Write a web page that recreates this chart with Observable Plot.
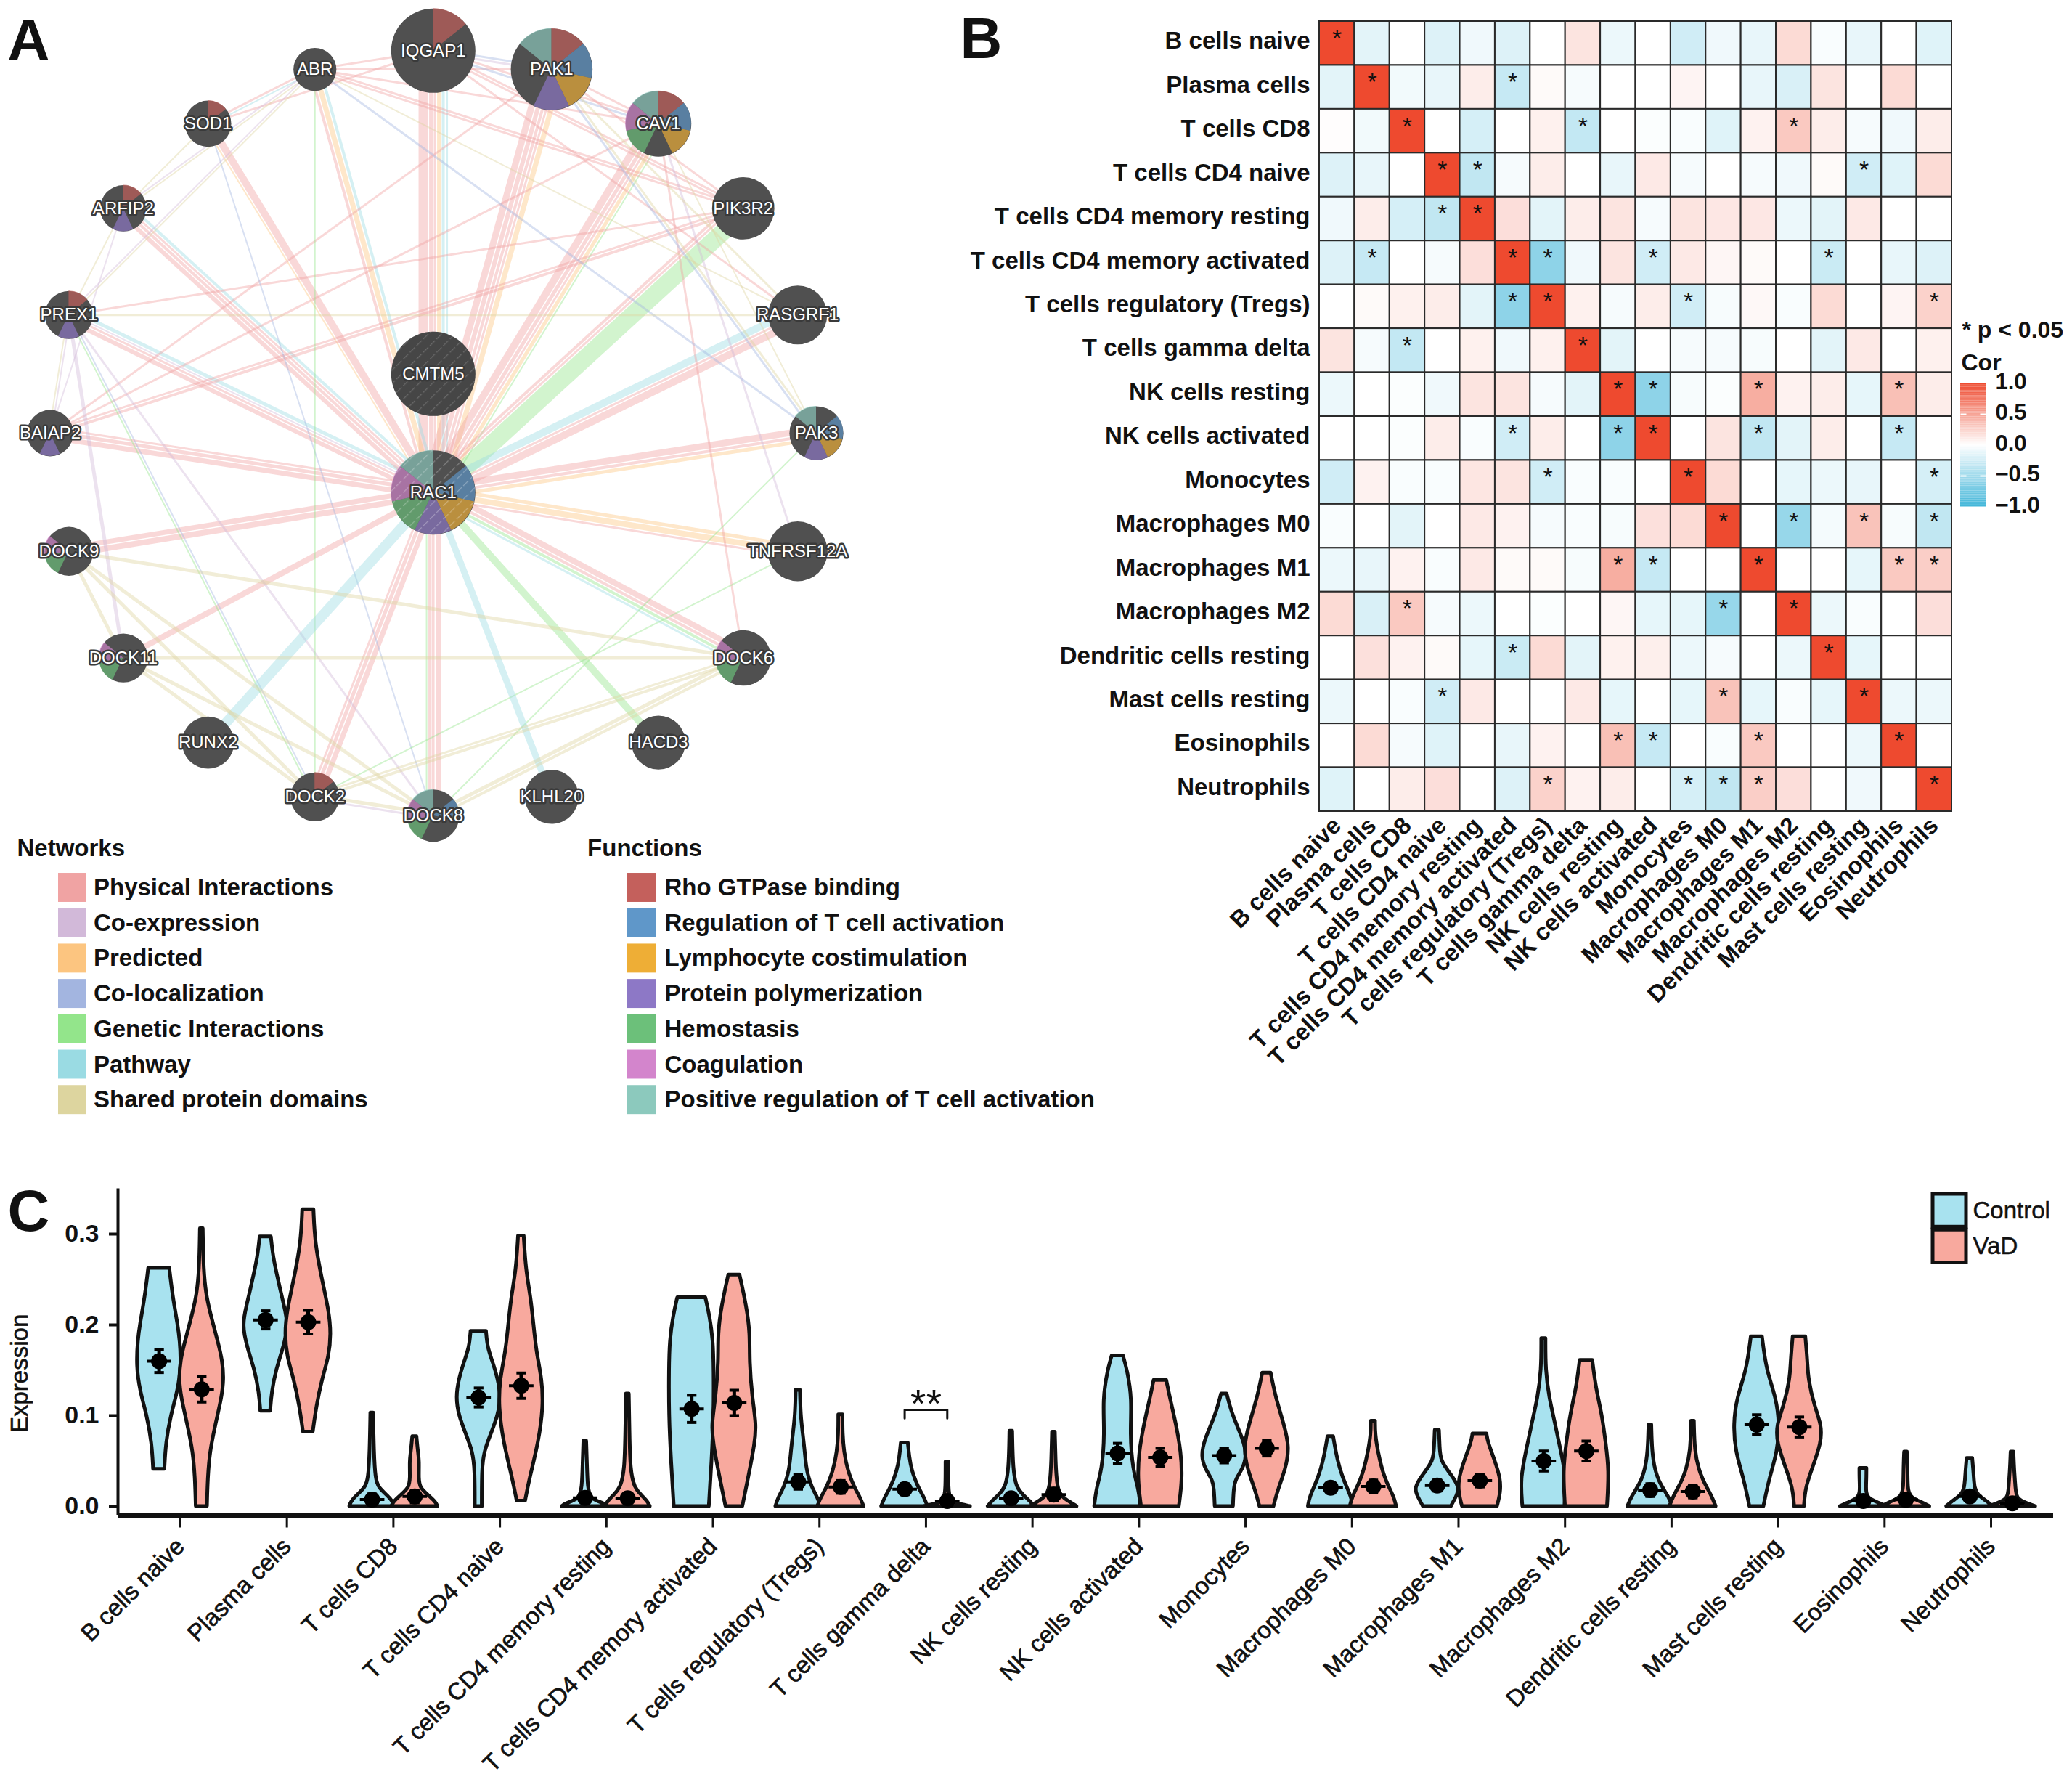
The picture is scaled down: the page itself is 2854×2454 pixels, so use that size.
<!DOCTYPE html>
<html><head><meta charset="utf-8">
<script src="https://cdn.jsdelivr.net/npm/d3@7"></script>
<script src="https://cdn.jsdelivr.net/npm/@observablehq/plot@0.6"></script>
<style>
html,body{margin:0;padding:0;background:#fff}
#page{position:relative;width:2854px;height:2454px;overflow:hidden;background:#fff}
#page svg{position:absolute;background:transparent;overflow:visible}
</style></head><body><div id="page"></div>
<script>
const FONT='"Liberation Sans",Arial,sans-serif';

/* ---------- Panel A: gene network ---------- */
const ringGenes=["IQGAP1","PAK1","CAV1","PIK3R2","RASGRF1","PAK3","TNFRSF12A","DOCK6","HACD3","KLHL20","DOCK8","DOCK2","RUNX2","DOCK11","DOCK9","BAIAP2","PREX1","ARFIP2","SOD1","ABR"];
const ringScores=[1,.97,.78,.74,.7,.64,.71,.66,.64,.64,.62,.58,.62,.58,.58,.55,.57,.55,.55,.51];
const hubGenes=["CMTM5","RAC1"];
const hubHeights=[.155,-.155];
const networkNames=["Physical Interactions","Co-expression","Predicted","Co-localization","Genetic Interactions","Pathway","Shared protein domains"];
const networkColors=["#f0a3a3","#d2b9d9","#fcc580","#a3b5e0","#93e58b","#9adbe3","#ddd59f"];
const functionNames=["Rho GTPase binding","Regulation of T cell activation","Lymphocyte costimulation","Protein polymerization","Hemostasis","Coagulation","Positive regulation of T cell activation"];
const functionColors=["#c4605c","#5f97c9","#eeae36","#8d78c6","#6cc07a","#d385cc","#8cc9bd"];
const geneFunctions={
 RAC1:[1,2,3,4,5,6],IQGAP1:[0],PAK1:[0,1,2,3,6],CAV1:[0,1,2,4,5,6],PAK3:[1,2,3,6],
 DOCK6:[4,5],DOCK8:[1,4,5,6],DOCK2:[0],DOCK11:[4,5],DOCK9:[4,5],BAIAP2:[3],
 PREX1:[0,3],ARFIP2:[0,3],SOD1:[0]};
const physicalEdges=[["RAC1","IQGAP1",13],["RAC1","IQGAP1",5],["RAC1","IQGAP1",3],["RAC1","PAK1",9],["RAC1","PAK1",6],["RAC1","PAK1",4],["RAC1","PAK1",3],
 ["RAC1","CAV1",10],["RAC1","CAV1",5],["RAC1","CAV1",3],["RAC1","PIK3R2",4],["RAC1","PIK3R2",3],["RAC1","RASGRF1",10],["RAC1","RASGRF1",3],["RAC1","PAK3",9],["RAC1","PAK3",4],
 ["RAC1","TNFRSF12A",3],["RAC1","DOCK6",8],["RAC1","DOCK6",4],["RAC1","DOCK8",7],["RAC1","DOCK8",4],["RAC1","DOCK8",3],["RAC1","DOCK2",7],["RAC1","DOCK2",5],["RAC1","DOCK2",3],
 ["RAC1","DOCK11",8],["RAC1","DOCK9",8],["RAC1","DOCK9",7],["RAC1","BAIAP2",7],["RAC1","BAIAP2",5],["RAC1","BAIAP2",3],["RAC1","PREX1",6],["RAC1","PREX1",3],
 ["RAC1","ARFIP2",6],["RAC1","ARFIP2",4],["RAC1","ARFIP2",3],["RAC1","SOD1",10],["RAC1","ABR",4],
 ["ABR","IQGAP1",3],["ABR","PAK1",3],["ABR","CAV1",3],["ABR","PIK3R2",3],["ABR","PIK3R2",3],["ABR","SOD1",3],["IQGAP1","SOD1",3],["IQGAP1","PIK3R2",3],["IQGAP1","PIK3R2",3],
 ["IQGAP1","CAV1",3],["IQGAP1","RASGRF1",3],["PAK1","PIK3R2",3],["PAK1","CAV1",3],["PIK3R2","BAIAP2",4],["PIK3R2","BAIAP2",3],["PIK3R2","PREX1",3],["PAK1","BAIAP2",3],["CAV1","BAIAP2",3],["CAV1","DOCK6",3]];
const coexpressionEdges=[["PREX1","DOCK11",5],["IQGAP1","PAK1",3],["PREX1","DOCK8",3],["CAV1","TNFRSF12A",3],["DOCK2","DOCK8",3],["BAIAP2","PREX1",2],["ABR","ARFIP2",2],["ABR","PREX1",2],["PREX1","RAC1",2],["ARFIP2","BAIAP2",2]];
const predictedEdges=[["RAC1","PAK1",7],["RAC1","CAV1",5],["RAC1","ABR",7],["RAC1","IQGAP1",5],["RAC1","PAK3",5],["RAC1","TNFRSF12A",8],["RAC1","TNFRSF12A",5],["RAC1","SOD1",2]];
const colocalizationEdges=[["ABR","PAK3",3],["PAK1","PAK3",3],["IQGAP1","CAV1",3],["IQGAP1","PAK1",3],["SOD1","DOCK8",2],["PREX1","DOCK2",2]];
const geneticEdges=[["RAC1","PIK3R2",24],["RAC1","HACD3",10],["RAC1","DOCK6",4],["DOCK8","PAK3",2],["DOCK2","TNFRSF12A",2],["ABR","DOCK2",2],["PREX1","DOCK2",2],["CAV1","RAC1",2],["DOCK8","RAC1",2]];
const pathwayEdges=[["RAC1","RUNX2",14],["RAC1","KLHL20",9],["RAC1","RASGRF1",10],["RAC1","PREX1",5],["RAC1","ABR",4],["RAC1","IQGAP1",4],["RAC1","IQGAP1",3],["RAC1","ARFIP2",4],["RAC1","DOCK6",3],["SOD1","ABR",2]];
const sharedEdges=[["DOCK9","DOCK11",5],["DOCK9","DOCK2",5],["DOCK9","DOCK8",5],["DOCK9","DOCK6",5],["DOCK11","DOCK2",5],["DOCK11","DOCK8",5],["DOCK11","DOCK6",5],["DOCK2","DOCK8",5],["DOCK2","DOCK6",4],["DOCK8","DOCK6",5],["DOCK2","DOCK6",3],["DOCK8","DOCK6",4],
 ["PAK1","PAK3",3],["ABR","PREX1",2],["ARFIP2","ABR",2],["ARFIP2","PREX1",2],["PREX1","BAIAP2",2],["PREX1","RASGRF1",3],["RASGRF1","ABR",2],["RASGRF1","PAK1",3],["PAK3","CAV1",2],["ARFIP2","SOD1",2]];

const nodePos={};
ringGenes.forEach((g,i)=>{const t=i*2*Math.PI/ringGenes.length;nodePos[g]={x:Math.sin(t),y:Math.cos(t),score:ringScores[i]};});
hubGenes.forEach((g,i)=>{nodePos[g]={x:0,y:hubHeights[i],score:1};});
const nodes=[...ringGenes,...hubGenes].map(g=>({gene:g,...nodePos[g]}));
const edgeLists=[physicalEdges,coexpressionEdges,predictedEdges,colocalizationEdges,geneticEdges,pathwayEdges,sharedEdges];
const edgesFlat=edgeLists.flatMap((l,k)=>l.map(([a,b,w])=>({a,b,w,network:networkNames[k]})));
const edgeRows=[];
const UNIT=1/527.7;
for(const group of d3.group(edgesFlat,e=>[e.a,e.b].sort().join("|")).values()){
  const total=d3.sum(group,e=>e.w+1.5);let off=-total/2;
  for(const e of group){
    const [p,q]=[e.a,e.b].sort().map(g=>nodePos[g]);
    const dx=q.x-p.x,dy=q.y-p.y,len=Math.hypot(dx,dy)||1;
    const o=(off+(e.w+1.5)/2)*UNIT;off+=e.w+1.5;
    const nx=-dy/len*o,ny=dx/len*o;
    edgeRows.push({x1:p.x+nx,y1:p.y+ny,x2:q.x+nx,y2:q.y+ny,w:e.w,network:e.network});
  }
}
const wedges=Object.entries(geneFunctions).flatMap(([g,fs])=>fs.map(f=>({...nodePos[g],gene:g,k:f,fn:functionNames[f]})));

const wedgeRender=(I,scales,v)=>{
  const g=d3.create("svg:g");const arc=d3.arc().innerRadius(0);
  const n=functionNames.length;
  for(const i of I){
    g.append("path").attr("transform",`translate(${v.x[i]},${v.y[i]})`)
     .attr("d",arc({outerRadius:v.r[i],startAngle:wedges[i].k*2*Math.PI/n,endAngle:(wedges[i].k+1)*2*Math.PI/n}))
     .attr("fill",v.fill[i]).attr("fill-opacity",.68);
  }
  return g.node();
};

const plotA=Plot.plot({width:1300,height:1180,margin:0,style:{fontFamily:FONT,background:"transparent"},
 x:{domain:[-1.13,1.3335],range:[0,1300],axis:null},
 y:{domain:[-1.1088,1.1316],range:[1180,0],axis:null},
 r:{type:"linear",domain:[0,1],range:[0,58]},
 color:{domain:[...networkNames,...functionNames],range:[...networkColors,...functionColors]},
 marks:[
  Plot.link(edgeRows,{x1:"x1",y1:"y1",x2:"x2",y2:"y2",stroke:"network",strokeWidth:"w",strokeOpacity:.42}),
  Plot.dot(nodes,{x:"x",y:"y",r:"score",fill:"#505050"}),
  Plot.dot(wedges,{x:"x",y:"y",r:"score",fill:"fn",render:wedgeRender}),
  Plot.dot(nodes.filter(d=>hubGenes.includes(d.gene)),{x:"x",y:"y",r:"score",fill:"url(#hatchA)"}),
  Plot.dot(nodes.filter(d=>d.gene==="CMTM5"),{x:"x",y:"y",r:"score",fill:"#333",fillOpacity:.3}),
  Plot.text(nodes,{x:"x",y:"y",text:"gene",fill:"#fff",stroke:"#3a3a3a",strokeWidth:5,fontSize:24,paintOrder:"stroke"}),
  Plot.text(["A"],{frameAnchor:"top-left",dx:10,dy:25,fontSize:80,fontWeight:"bold",fill:"#111",lineAnchor:"top",textAnchor:"start"})
 ]});
d3.select(plotA).insert("defs",":first-child").html(`<pattern id="hatchA" width="13" height="13" patternUnits="userSpaceOnUse" patternTransform="rotate(45)"><line x1="0" y1="0" x2="0" y2="13" stroke="#fff" stroke-opacity=".28" stroke-width="2.5" stroke-dasharray="9 3"/></pattern>`);

function swatchLegend(title,names,colors,left,marginLeft,textDx){
  const p=Plot.plot({width:1300,height:430,marginTop:67.65,marginBottom:21.45,marginLeft,marginRight:1300-marginLeft-39,
   style:{fontFamily:FONT,background:"transparent"},
   x:{domain:[""],axis:null,padding:0,round:false},
   y:{domain:names,axis:null,paddingInner:.18,paddingOuter:.09,round:false},
   color:{domain:names,range:colors},
   marks:[
    Plot.cell(names,{x:()=>"",y:d=>d,fill:d=>d}),
    Plot.text(names,{x:()=>"",y:d=>d,text:d=>d,dx:textDx,textAnchor:"start",fontSize:33,fontWeight:"bold",fill:"#111"}),
    Plot.text([title],{x:()=>"",y:()=>names[0],text:d=>d,dx:-(19.5+marginLeft-(marginLeft===80?23:28.6)),dy:-54,textAnchor:"start",fontSize:33,fontWeight:"bold",fill:"#111"})
   ]});
  p.style.left=left+"px";p.style.top="1130px";return p;
}
const legendNetworks=swatchLegend("Networks",networkNames,networkColors,0,80,29);
const legendFunctions=swatchLegend("Functions",functionNames,functionColors,780,84,31.5);

/* ---------- Panel B: correlation heatmap ---------- */
const cellTypes=["B cells naive","Plasma cells","T cells CD8","T cells CD4 naive","T cells CD4 memory resting","T cells CD4 memory activated","T cells regulatory (Tregs)","T cells gamma delta","NK cells resting","NK cells activated","Monocytes","Macrophages M0","Macrophages M1","Macrophages M2","Dendritic cells resting","Mast cells resting","Eosinophils","Neutrophils"];
const corRows=[
[1,-.15,0,-.18,-.08,-.18,0,.15,-.1,0,-.25,-.08,-.12,.2,-.03,-.12,0,-.17],
[-.15,1,-.07,-.12,.1,-.3,.03,-.05,0,0,.06,0,-.12,-.2,.15,0,.2,0],
[.01,-.07,1,0,-.22,0,.08,-.32,0,-.02,-.03,-.17,.07,.3,.1,-.05,-.08,.1],
[-.18,-.12,0,1,-.33,-.05,.1,0,-.12,.12,-.05,0,-.05,-.08,.03,-.25,-.17,.2],
[-.08,.1,-.22,-.33,1,.18,-.15,.1,.15,-.05,.15,.13,.13,-.1,-.15,.12,0,0],
[-.18,-.3,0,-.05,.18,1,-.6,-.08,.15,-.25,.12,.05,.03,0,-.28,0,-.12,-.18],
[0,.03,.08,.1,-.15,-.6,1,.08,-.05,.1,-.25,-.04,.04,-.03,.2,0,.06,.25],
[.15,-.05,-.32,0,.08,-.08,.08,1,-.15,0,-.05,-.05,-.04,0,-.15,.12,0,.08],
[-.1,0,-.02,-.08,.15,.15,-.05,-.15,1,-.6,-.04,-.02,.45,.07,.1,-.13,.35,.1],
[0,0,-.02,.1,-.03,-.25,.1,0,-.6,1,0,.15,-.33,-.15,.1,0,-.3,0],
[-.25,.07,-.03,-.03,.14,.15,-.25,-.03,-.03,0,1,.2,0,-.13,-.1,-.12,0,-.22],
[-.03,0,-.15,0,.12,.07,-.05,-.03,-.04,.17,.2,1,0,-.55,-.06,.33,-.04,-.33],
[-.1,-.12,.07,-.03,.12,.03,.03,-.04,.45,-.3,0,0,1,0,0,-.13,.3,.27],
[.2,-.2,.3,-.05,-.1,0,-.02,0,.05,-.13,-.13,-.55,0,1,-.1,-.03,0,.18],
[0,.17,.07,.03,-.13,-.28,.2,-.15,.08,.09,-.1,-.05,0,-.1,1,-.13,0,0],
[-.1,0,-.03,-.25,.12,0,0,.12,-.13,0,-.13,.33,-.13,-.03,-.13,1,-.1,-.1],
[0,.2,-.05,-.17,0,-.12,.07,0,.35,-.3,0,-.03,.3,0,0,-.1,1,0],
[-.17,0,.1,.18,0,-.18,.25,.07,.1,0,-.22,-.33,.27,.18,0,-.08,0,1]];
const sigColumns=[[1],[2,6],[3,8,14],[4,5,16],[4,5],[2,6,7,10,15],[6,7,11,18],[3,8],[9,10,13,17],[6,9,10,13,17],[7,11,18],[12,14,16,18],[9,10,13,17,18],[3,12,14],[6,15],[4,12,16],[9,10,13,17],[7,11,12,13,18]];
const corScale={type:"linear",domain:[-1,0,1],range:["#42b6d9","#ffffff","#ee4a2f"]};
const corCells=corRows.flatMap((r,i)=>r.map((v,j)=>({row:cellTypes[i],col:cellTypes[j],v})));
const sigCells=sigColumns.flatMap((cs,i)=>cs.map(j=>({row:cellTypes[i],col:cellTypes[j-1]})));

const plotB=Plot.plot({width:1554,height:1600,marginLeft:517,marginRight:166,marginTop:29,marginBottom:483,
 style:{fontFamily:FONT,background:"transparent",color:"#111"},
 x:{domain:cellTypes,padding:0,label:null,round:false},y:{domain:cellTypes,padding:0,label:null,round:false},color:corScale,
 marks:[
  Plot.axisY({tickSize:0,tickPadding:13,fontSize:33,fontWeight:"bold",label:null,dy:-3}),
  Plot.axisX({tickSize:0,tickPadding:14,tickRotate:-45,fontSize:33,fontWeight:"bold",label:null}),
  Plot.cell(corCells,{x:"col",y:"row",fill:"v",stroke:"#2a2a2a",strokeWidth:2}),
  Plot.text(sigCells,{x:"col",y:"row",text:()=>"*",fontSize:34,fill:"#111",dy:-7}),
  Plot.text(["B"],{frameAnchor:"top-left",dx:-(517-22),dy:-6,fontSize:80,fontWeight:"bold",fill:"#111",lineAnchor:"top",textAnchor:"start"})
 ]});
plotB.style.left="1300px";plotB.style.top="0px";

const corBarTicks=[-1,-.5,0,.5,1];
const corRamp=d3.range(-1,1,.02);
const plotBar=Plot.plot({width:214,height:320,margin:0,style:{fontFamily:FONT,background:"transparent",color:"#111"},
 x:{domain:[0,35],range:[60,95],axis:null},y:{domain:[-1,1],range:[277.5,107.5],axis:null},color:corScale,
 marks:[
  Plot.rect(corRamp,{x1:0,x2:35,y1:d=>d,y2:d=>d+.02,fill:d=>d+.01}),
  Plot.link([.5,-.5],{x1:0,x2:8,y1:d=>d,y2:d=>d,stroke:"#fff",strokeWidth:2}),
  Plot.link([.5,-.5],{x1:27,x2:35,y1:d=>d,y2:d=>d,stroke:"#fff",strokeWidth:2}),
  Plot.text(corBarTicks,{x:35,y:d=>d,dx:13,dy:-2,text:d=>d3.format(".1f")(d),textAnchor:"start",fontSize:31,fontWeight:"bold"}),
  Plot.text(["* p < 0.05"],{frameAnchor:"top-left",dx:62,dy:34,fontSize:32,fontWeight:"bold",lineAnchor:"middle",textAnchor:"start"}),
  Plot.text(["Cor"],{frameAnchor:"top-left",dx:61,dy:79,fontSize:32,fontWeight:"bold",lineAnchor:"middle",textAnchor:"start"})
 ]});
plotBar.style.left="2640px";plotBar.style.top="420px";

/* ---------- Panel C: violins ---------- */
const groups=["Control","VaD"];
const groupColors=["#a8e2ef","#f8a99e"];
const violinControl=[
[[.041,8],[.07,10],[.10,17],[.127,27],[.155,32],[.183,30],[.20,27],[.23,20],[.2625,15]],
[[.105,7],[.125,9],[.15,15],[.175,26],[.20,33],[.22,27],[.25,18],[.275,11],[.297,8]],
[[0,32],[.005,30],[.012,22],[.02,10],[.03,5],[.06,3],[.103,2]],
[[0,5],[.04,5],[.06,8],[.08,18],[.10,28],[.12,32],[.14,28],[.16,20],[.175,13],[.193,11]],
[[0,33],[.003,28],[.008,8],[.02,4],[.05,3],[.072,2]],
[[0,25],[.05,29],[.10,32],[.15,32],[.183,31],[.21,26],[.23,20]],
[[0,32],[.01,28],[.02,20],[.04,12],[.06,10],[.08,7],[.10,4],[.128,3]],
[[0,33],[.01,28],[.02,20],[.04,10],[.055,7],[.07,5]],
[[0,33],[.005,28],[.012,18],[.02,8],[.04,3],[.083,2]],
[[0,33],[.02,30],[.04,22],[.08,18],[.118,21],[.15,14],[.166,8]],
[[0,13],[.02,14],[.03,17],[.04,26],[.055,33],[.075,27],[.10,12],[.124,4]],
[[0,32],[.01,30],[.03,18],[.05,10],[.077,4]],
[[0,20],[.01,27],[.02,33],[.035,20],[.05,5],[.065,4],[.084,3]],
[[0,30],[.03,33],[.06,25],[.09,17],[.12,8],[.15,3],[.185,3]],
[[0,32],[.01,27],[.025,14],[.04,7],[.06,3],[.09,2]],
[[0,10],[.03,18],[.06,30],[.09,33],[.12,28],[.15,14],[.187,8]],
[[0,33],[.003,25],[.008,8],[.015,4],[.03,5],[.042,5]],
[[0,33],[.006,24],[.012,12],[.02,7],[.035,6],[.053,4]]];
const violinVaD=[
[[0,8],[.03,9],[.06,12],[.09,20],[.12,29],[.14,32],[.16,30],[.18,24],[.20,17],[.23,7],[.26,3],[.306,2]],
[[.082,7],[.11,12],[.14,20],[.165,30],[.19,33],[.215,30],[.25,20],[.29,10],[.327,8]],
[[0,33],[.005,30],[.012,20],[.02,8],[.03,6],[.05,7],[.06,5],[.077,3]],
[[.006,6],[.03,12],[.07,25],[.11,32],[.14,30],[.17,22],[.20,18],[.23,14],[.26,7],[.298,4]],
[[0,32],[.006,28],[.012,20],[.02,10],[.04,4],[.08,3],[.124,2]],
[[0,12],[.03,20],[.07,30],[.09,32],[.12,26],[.16,22],[.19,23],[.22,18],[.255,8]],
[[0,33],[.01,28],[.02,20],[.04,10],[.06,5],[.08,3],[.101,3]],
[[0,33],[.002,20],[.005,4],[.02,2],[.049,2]],
[[0,33],[.004,25],[.01,12],[.02,5],[.05,3],[.082,2]],
[[0,27],[.03,32],[.06,30],[.09,23],[.12,14],[.139,9]],
[[0,10],[.02,17],[.04,27],[.065,33],[.09,25],[.12,13],[.147,6]],
[[0,33],[.01,30],[.025,20],[.04,13],[.06,7],[.08,3],[.094,3]],
[[0,25],[.015,30],[.03,30],[.05,22],[.07,12],[.08,10]],
[[0,30],[.04,33],[.07,28],[.10,23],[.13,14],[.161,9]],
[[0,33],[.012,27],[.025,17],[.04,9],[.06,3],[.094,2]],
[[0,7],[.02,9],[.04,18],[.07,32],[.09,32],[.11,22],[.14,13],[.16,12],[.187,9]],
[[0,34],[.004,24],[.01,6],[.02,3],[.04,3],[.06,2]],
[[0,33],[.003,22],[.008,6],[.02,5],[.04,3],[.06,2]]];
const meanControl=[.160,.2055,.0076,.12,.0095,.1075,.027,.019,.009,.0585,.056,.0207,.023,.05,.018,.09,.006,.011];
const meanVaD=[.129,.203,.011,.133,.009,.114,.0215,.006,.013,.054,.064,.022,.0285,.061,.0165,.0875,.0075,.0035];
const seControl=[.0125,.01,.006,.0105,.005,.015,.008,.006,.005,.011,.008,.006,.006,.011,.007,.011,.004,.005];
const seVaD=[.014,.013,.007,.014,.005,.014,.007,.005,.007,.01,.0085,.007,.007,.011,.007,.011,.005,.005];
const sigBracketCategory=7;
const sigBracketValues=[.097,.1065];
const DODGE=.2,DENS=1/152;
const violinRows=[violinControl,violinVaD].flatMap((list,g)=>list.flatMap((prof,c)=>prof.map(([v,d])=>({v,d,c,g,group:groups[g],id:c+"-"+g,cx:c+(g?DODGE:-DODGE)}))));
const summary=[[meanControl,seControl],[meanVaD,seVaD]].flatMap(([m,s],g)=>m.map((v,c)=>({v,se:s[c],cx:c+(g?DODGE:-DODGE)})));
const bx=[sigBracketCategory-DODGE,sigBracketCategory+DODGE];
const bracket=[{x:bx[0],y:sigBracketValues[0]},{x:bx[0],y:sigBracketValues[1]},{x:bx[1],y:sigBracketValues[1]},{x:bx[1],y:sigBracketValues[0]}];

const XMIN=-.586,XMAX=17.586;
const plotC=Plot.plot({width:2854,height:854,marginLeft:162,marginRight:26,marginTop:36.5,marginBottom:367.5,
 style:{fontFamily:FONT,background:"transparent",color:"#111"},
 x:{domain:[XMIN,XMAX]},y:{domain:[-.01,.35]},color:{domain:groups,range:groupColors},
 marks:[
  Plot.axisY({ticks:[0,.1,.2,.3],tickFormat:".1f",tickSize:12,strokeWidth:4,tickPadding:14,fontSize:34,fontWeight:"bold",label:null}),
  Plot.axisX({ticks:d3.range(cellTypes.length),tickFormat:i=>cellTypes[i],tickSize:17,strokeWidth:3,tickRotate:-45,tickPadding:20,fontSize:33,fontWeight:"normal",stroke:"#111",label:null}),
  Plot.ruleX([XMIN],{y1:-.01,y2:.35,strokeWidth:4,stroke:"#111"}),
  Plot.ruleY([-.01],{x1:XMIN,x2:XMAX,strokeWidth:6,stroke:"#111"}),
  Plot.areaX(violinRows,{x1:d=>d.cx-d.d*DENS,x2:d=>d.cx+d.d*DENS,y:"v",z:"id",fill:"group",stroke:"#111",strokeWidth:5,strokeLinejoin:"round",curve:"basis"}),
  Plot.link(summary,{x:"cx",y1:d=>d.v-d.se,y2:d=>d.v+d.se,stroke:"#000",strokeWidth:5}),
  Plot.link(summary,{x1:d=>d.cx-.045,x2:d=>d.cx+.045,y1:d=>d.v+d.se,y2:d=>d.v+d.se,stroke:"#000",strokeWidth:4}),
  Plot.link(summary,{x1:d=>d.cx-.045,x2:d=>d.cx+.045,y1:d=>d.v-d.se,y2:d=>d.v-d.se,stroke:"#000",strokeWidth:4}),
  Plot.link(summary,{x1:d=>d.cx-.115,x2:d=>d.cx+.115,y1:"v",y2:"v",stroke:"#000",strokeWidth:4}),
  Plot.dot(summary,{x:"cx",y:"v",r:11,fill:"#000"}),
  Plot.line(bracket,{x:"x",y:"y",stroke:"#111",strokeWidth:3}),
  Plot.text(["**"],{x:sigBracketCategory,y:.112,fontSize:56,fill:"#111"}),
  Plot.text(["Expression"],{x:XMIN,y:.1465,dx:-135,rotate:-90,fontSize:33,fill:"#111",stroke:"#111",strokeWidth:.6}),
  Plot.text(["C"],{frameAnchor:"top-left",dx:-152,dy:1,fontSize:80,fontWeight:"bold",fill:"#111",lineAnchor:"top",textAnchor:"start"})
 ]});
plotC.style.left="0px";plotC.style.top="1600px";
d3.select(plotC).selectAll("text").filter(function(){return this.closest('[aria-label="x-axis tick label"]');}).style("stroke","#111").style("stroke-width",".7px");

const plotCLegend=Plot.plot({width:204,height:120,marginTop:10,marginBottom:15.5,marginLeft:12,marginRight:146,
 style:{fontFamily:FONT,background:"transparent",color:"#111"},
 x:{domain:[""],axis:null,padding:0,round:false},y:{domain:groups,axis:null,paddingInner:.08,paddingOuter:0,round:false},color:{domain:groups,range:groupColors},
 marks:[
  Plot.cell(groups,{x:()=>"",y:d=>d,fill:d=>d,stroke:"#111",strokeWidth:5}),
  Plot.text(groups,{x:()=>"",y:d=>d,text:d=>d,dx:32,textAnchor:"start",fontSize:33,fill:"#111",stroke:"#111",strokeWidth:.5})
 ]});
plotCLegend.style.left="2650px";plotCLegend.style.top="1634px";

const page=document.getElementById("page");
plotA.style.left="0px";plotA.style.top="0px";
[plotA,legendNetworks,legendFunctions,plotB,plotBar,plotC,plotCLegend].forEach(p=>page.appendChild(p));
</script></body></html>
